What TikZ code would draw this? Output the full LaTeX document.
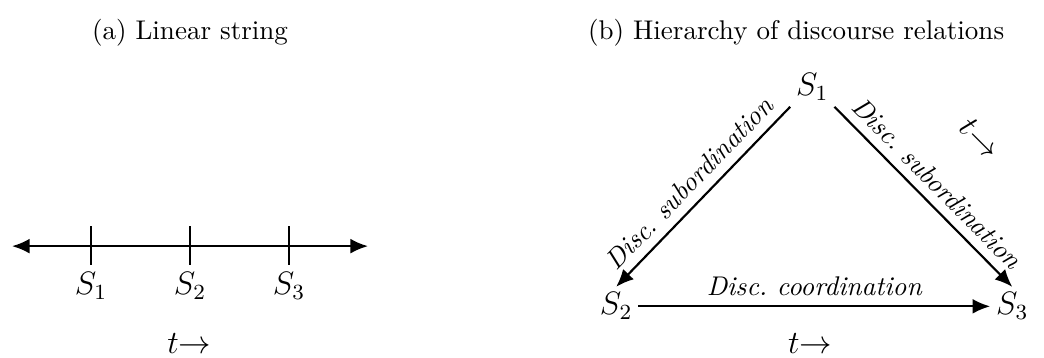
\documentclass[tikz,border=0pt]{standalone}
\usetikzlibrary{arrows.meta}
\begin{document}
\begin{tikzpicture}[lbl/.style={font=\large,inner sep=2pt}, tip/.tip={Latex[length=6.5pt,width=5.5pt]}, rel/.style={draw,thick,-tip}]
\useasboundingbox (0,0) rectangle (13.572,-4.654);

% (a) linear string
\node[anchor=base] (ta) at (2.47,-0.51) {(a) Linear string};
\coordinate (la) at (0.156,-3.2);
\coordinate (ra) at (4.784,-3.2);
\path[draw,thick,tip-tip] (la) -- (ra);
\foreach \i/\x in {1/1.183,2/2.47,3/3.757} {
  \coordinate (u\i) at (\x,-2.94);
  \coordinate (d\i) at (\x,-3.445);
  \path[draw,thick] (u\i) -- (d\i);
  \node[lbl,anchor=base] (s\i a) at (\x,-3.835) {$S_\i$};
}
\node[lbl,anchor=base] (tima) at (2.46,-4.59) {$t{\rightarrow}$};

% (b) hierarchy
\node[anchor=base] (tb) at (10.35,-0.51) {(b) Hierarchy of discourse relations};
\node[lbl,anchor=base] (s1) at (10.56,-1.248) {$S_1$};
\node[lbl,anchor=base] (s2) at (8.01,-4.095) {$S_2$};
\node[lbl,anchor=base] (s3) at (13.16,-4.095) {$S_3$};
\path[rel] (s1.south west) -- node[sloped,above] {\itshape Disc.\ subordination} (s2.north);
\path[rel] (s1.south east) -- node[sloped,above] {\itshape Disc.\ subordination} (s3.north);
\path[rel] (s2) -- node[above] {\itshape Disc.\ coordination} (s3);
\node[lbl,rotate=-45] (timr) at (12.74,-1.8) {$t{\rightarrow}$};
\node[lbl,anchor=base] (timb) at (10.53,-4.59) {$t{\rightarrow}$};
\end{tikzpicture}
\end{document}
